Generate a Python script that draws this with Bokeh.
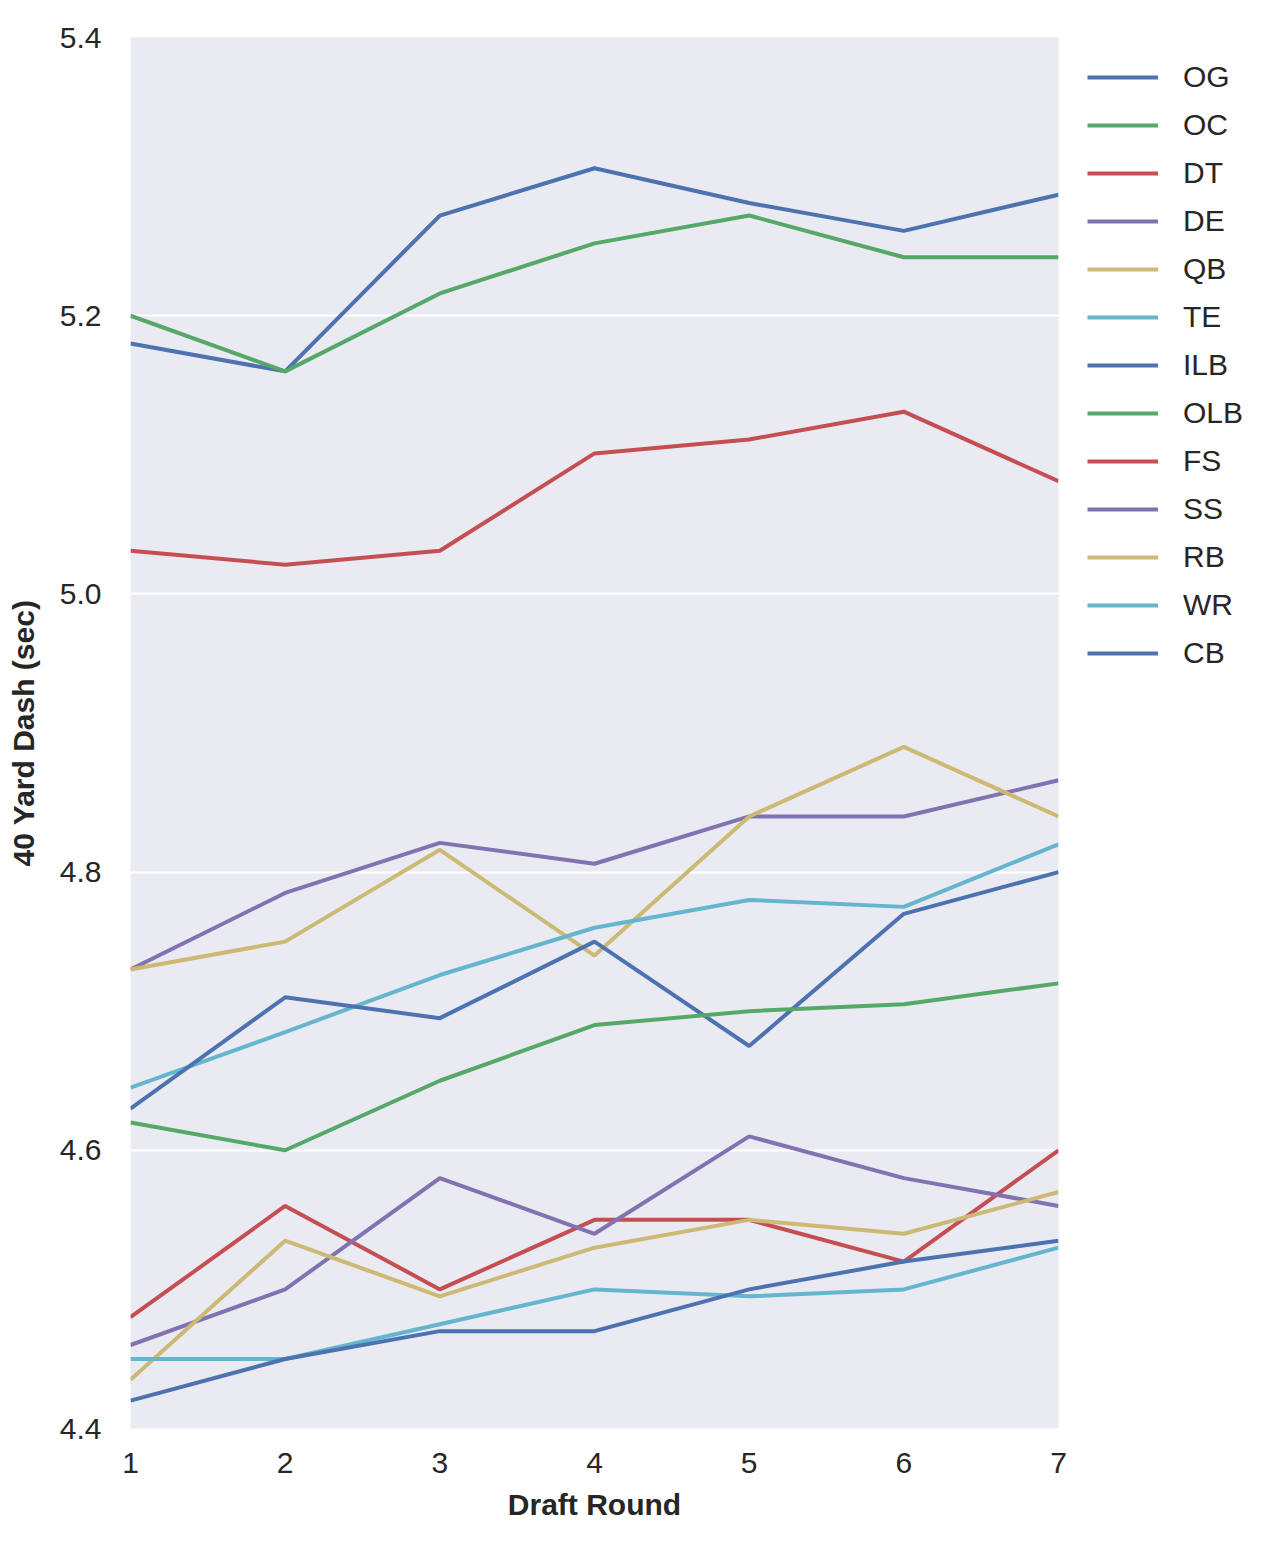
from bokeh.plotting import figure
from bokeh.models import FixedTicker, PrintfTickFormatter, Legend, LegendItem
from bokeh.embed import file_html
from bokeh.resources import INLINE

rounds = [1, 2, 3, 4, 5, 6, 7]
positions = ["OG", "OC", "DT", "DE", "QB", "TE", "ILB", "OLB", "FS", "SS", "RB", "WR", "CB"]

og = [5.18, 5.16, 5.272, 5.306, 5.281, 5.261, 5.287]
oc = [5.20, 5.16, 5.216, 5.252, 5.272, 5.242, 5.242]
dt = [5.031, 5.021, 5.031, 5.101, 5.111, 5.131, 5.081]
de = [4.73, 4.785, 4.821, 4.806, 4.84, 4.84, 4.866]
qb = [4.73, 4.75, 4.816, 4.74, 4.84, 4.89, 4.84]
te = [4.645, 4.685, 4.726, 4.76, 4.78, 4.775, 4.82]
ilb = [4.63, 4.71, 4.695, 4.75, 4.675, 4.77, 4.80]
olb = [4.62, 4.60, 4.65, 4.69, 4.70, 4.705, 4.72]
fs = [4.48, 4.56, 4.50, 4.55, 4.55, 4.52, 4.60]
ss = [4.46, 4.50, 4.58, 4.54, 4.61, 4.58, 4.56]
rb = [4.435, 4.535, 4.495, 4.53, 4.55, 4.54, 4.57]
wr = [4.45, 4.45, 4.475, 4.50, 4.495, 4.50, 4.53]
cb = [4.42, 4.45, 4.47, 4.47, 4.50, 4.52, 4.535]

series = [og, oc, dt, de, qb, te, ilb, olb, fs, ss, rb, wr, cb]
palette = ["#4C72B0", "#55A868", "#C44E52", "#8172B2", "#CCB974", "#64B5CD"]

y_ticks = [4.4, 4.6, 4.8, 5.0, 5.2, 5.4]
x_ticks = [1, 2, 3, 4, 5, 6, 7]

FONT = "Liberation Sans"
TXT = "#262626"

p = figure(frame_width=928, frame_height=1391, min_border_left=130, min_border_top=37,
           min_border_right=20, min_border_bottom=115,
           x_range=(1, 7), y_range=(4.4, 5.4),
           output_backend="svg", toolbar_location=None)
p.background_fill_color = "#EAEAF2"
p.border_fill_color = "white"
p.outline_line_color = None

p.xgrid.grid_line_color = None
p.ygrid.grid_line_color = "white"
p.ygrid.grid_line_width = 2
p.ygrid.ticker = FixedTicker(ticks=y_ticks)

p.yaxis.ticker = FixedTicker(ticks=y_ticks)
p.yaxis.formatter = PrintfTickFormatter(format="%.1f")
p.xaxis.ticker = FixedTicker(ticks=x_ticks)

for ax in (p.xaxis[0], p.yaxis[0]):
    ax.axis_line_color = None
    ax.major_tick_line_color = None
    ax.minor_tick_line_color = None
    ax.major_label_text_font = FONT
    ax.major_label_text_font_size = "30px"
    ax.major_label_text_color = TXT
    ax.axis_label_text_font = FONT
    ax.axis_label_text_font_size = "30px"
    ax.axis_label_text_font_style = "bold"
    ax.axis_label_text_color = TXT

p.xaxis.axis_label = "Draft Round"
p.yaxis.axis_label = "40 Yard Dash (sec)"
p.xaxis.major_label_standoff = 18
p.xaxis.axis_label_standoff = 12
p.yaxis.major_label_standoff = 23
p.yaxis.axis_label_standoff = 17

items = []
for i, (name, vals) in enumerate(zip(positions, series)):
    r = p.line(rounds, vals, line_color=palette[i % len(palette)], line_width=4)
    items.append(LegendItem(label=name, renderers=[r]))

legend = Legend(items=items, location=(29, 755))
legend.padding = 0
legend.margin = 0
legend.spacing = 8
legend.label_height = 40
legend.glyph_height = 40
legend.glyph_width = 71
legend.label_standoff = 25
legend.label_text_font = FONT
legend.label_text_font_size = "30px"
legend.label_text_color = TXT
legend.background_fill_alpha = 0
legend.border_line_alpha = 0
p.add_layout(legend, "right")

open("out.html", "w").write(file_html(p, INLINE))
